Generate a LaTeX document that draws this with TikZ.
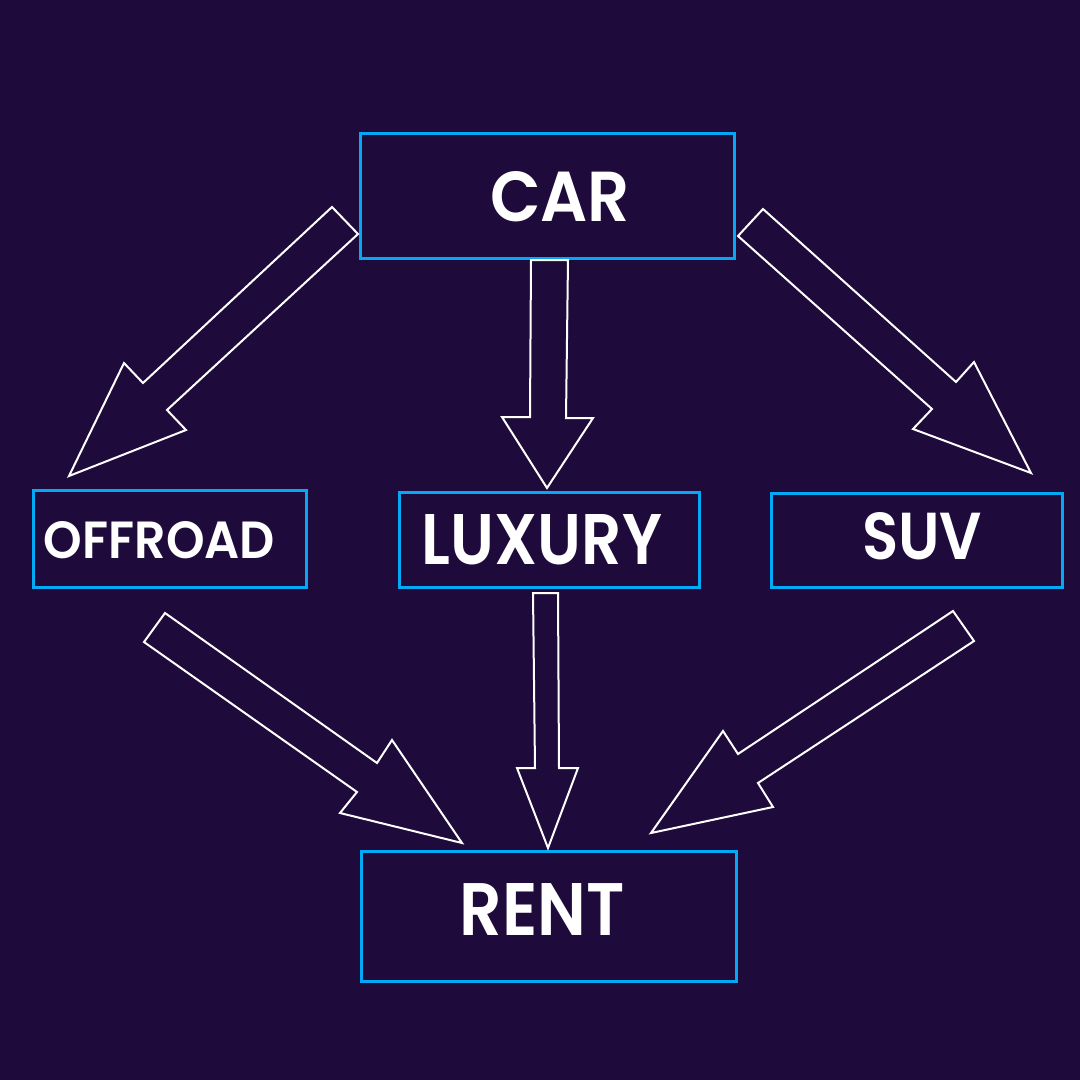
\documentclass[tikz,border=0pt]{standalone}
\usepackage{fontspec}
\setmainfont{Poppins}[BoldFont={Poppins SemiBold}]
\definecolor{bgc}{HTML}{1F0B3B}
\definecolor{boxc}{HTML}{03A9F4}
\tikzset{
  box/.style={draw=boxc, line width=3pt, fill=bgc},
  lbl/.style={text=white, inner sep=0pt, font=\bfseries\fontsize{70}{70}\selectfont},
  blockarrow/.style={draw=white, line width=2pt, line join=miter, fill=bgc}
}
\begin{document}
\begin{tikzpicture}[x=1pt,y=-1pt]
\fill[bgc] (0,0) rectangle (1080,1080);
\useasboundingbox (0,0) rectangle (1080,1080);
% boxes
\draw[box] (360,133) rectangle (734,258); \coordinate (car) at (547,195);
\draw[box] (33,490) rectangle (306,587); \coordinate (off) at (170,539);
\draw[box] (399,492) rectangle (699,587); \coordinate (lux) at (549,540);
\draw[box] (771,493) rectangle (1062,587); \coordinate (suv) at (916,540);
\draw[box] (361,851) rectangle (736,981); \coordinate (rent) at (548,916);
% labels
\node[lbl] (tcar) at (560,197) {\resizebox{140pt}{50pt}{CAR}};
\node[lbl] (toff) at (159.5,540.5) {\resizebox{231pt}{37pt}{OFFROAD}};
\node[lbl] (tlux) at (542,540) {\resizebox{240pt}{50pt}{LUXURY}};
\node[lbl] (tsuv) at (922,536.5) {\resizebox{120pt}{47pt}{SUV}};
\node[lbl] (trent) at (542.5,909) {\resizebox{165pt}{52pt}{RENT}};
% block arrows
\draw[blockarrow] (332,207) -- (358,234) -- (167,410) -- (186,430) -- (69,476) -- (124,363) -- (143,383) -- cycle;
\draw[blockarrow] (531,260) -- (568,260) -- (566,418) -- (593,418) -- (547,488) -- (502,417) -- (530,417) -- cycle;
\draw[blockarrow] (763,209) -- (738,236) -- (932,409) -- (913,429) -- (1031,473) -- (974,362) -- (956,382) -- cycle;
\draw[blockarrow] (165,613) -- (144,642) -- (357,792) -- (340,813) -- (462,843) -- (392,740) -- (377,763) -- cycle;
\draw[blockarrow] (533,593) -- (558,593) -- (559,768) -- (578,768) -- (548,848) -- (517,768) -- (535,768) -- cycle;
\draw[blockarrow] (953,611) -- (974,641) -- (758,783) -- (773,807) -- (651,833) -- (723,731) -- (738,754) -- cycle;
\end{tikzpicture}
\end{document}
